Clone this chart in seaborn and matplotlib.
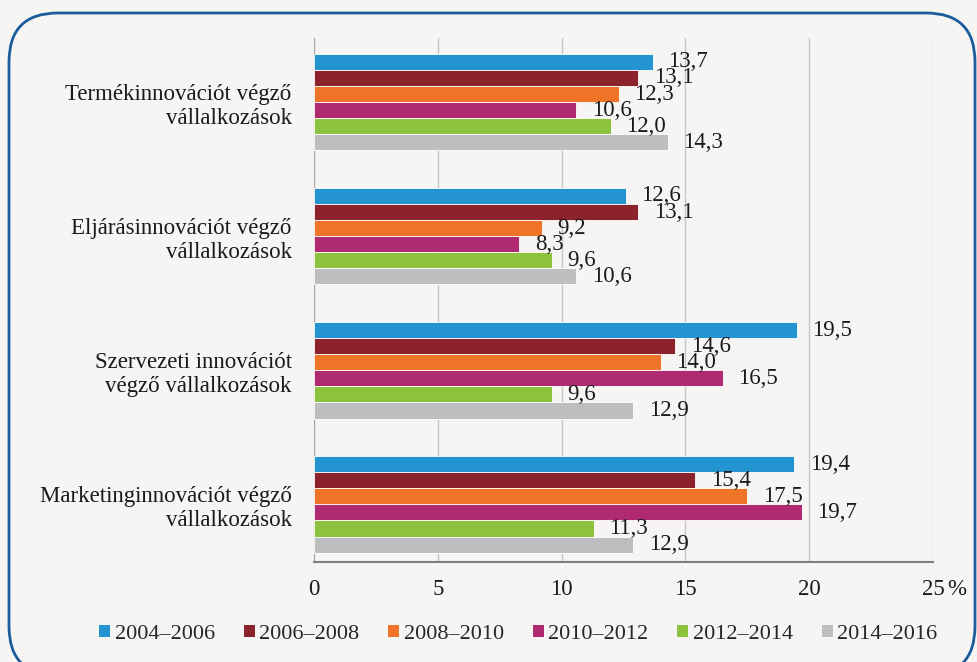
import numpy as np
import pandas as pd
import matplotlib.pyplot as plt
from matplotlib.patches import FancyBboxPatch, Patch
import seaborn as sns

# data
categories = ['Termékinnovációt végző\nvállalkozások',
              'Eljárásinnovációt végző\nvállalkozások',
              'Szervezeti innovációt\nvégző vállalkozások',
              'Marketinginnovációt végző\nvállalkozások']
periods = ['2004–2006', '2006–2008', '2008–2010', '2010–2012', '2012–2014', '2014–2016']
v_2004 = [13.7, 12.6, 19.5, 19.4]
v_2006 = [13.1, 13.1, 14.6, 15.4]
v_2008 = [12.3, 9.2, 14.0, 17.5]
v_2010 = [10.6, 8.3, 16.5, 19.7]
v_2012 = [12.0, 9.6, 9.6, 11.3]
v_2014 = [14.3, 10.6, 12.9, 12.9]
colors = ['#2394cf', '#8b222c', '#f07428', '#b02a72', '#8dc23f', '#bcbec0']

series = [v_2004, v_2006, v_2008, v_2010, v_2012, v_2014]
rows = []
for p, vals in zip(periods, series):
    for c, v in zip(categories, vals):
        rows.append({'cat': c, 'period': p, 'value': v})
df = pd.DataFrame(rows)

sns.set_style('white')
plt.rcParams['font.family'] = ['Liberation Serif', 'DejaVu Serif']
bg = '#f6f5f3'
fs = 16.5

fig = plt.figure(figsize=(9.78, 6.62), dpi=100, facecolor=bg)
ax = fig.add_axes([0.321, 0.151, 0.633, 0.792])
ax.set_facecolor(bg)

# rounded frame around the chart
frame = FancyBboxPatch((9 / 978, -0.02), 966 / 978, 1 - 13 / 662 + 0.02,
                       boxstyle='round,pad=0,rounding_size=0.05',
                       transform=fig.transFigure, facecolor='none',
                       edgecolor='#1d5c9c', linewidth=2, zorder=0,
                       mutation_aspect=978 / 662)
fig.patches.append(frame)

sns.barplot(data=df, y='cat', x='value', hue='period', hue_order=periods,
            palette=colors, orient='h', width=0.72, ax=ax, legend=False,
            edgecolor='white', linewidth=0.6, saturation=1, zorder=3)

for cont, vals in zip(ax.containers, series):
    ax.bar_label(cont, labels=[f'{v:.1f}'.replace('.', ',') for v in vals],
                 padding=11, fontsize=fs, color='#1a1a1a')

ax.set_xlim(0, 25)
ax.set_ylim(3.43, -0.48)
ax.set_xticks([0, 5, 10, 15, 20, 25])
ax.set_xticklabels(['0', '5', '10', '15', '20', '25'])
ax.annotate('%', xy=(25, 0), xycoords=('data', 'axes fraction'),
            xytext=(10, -20), textcoords='offset points',
            fontsize=fs, va='center', ha='left', color='#1a1a1a')
ax.set_xlabel('')
ax.set_ylabel('')
ax.grid(axis='x', color='#c6c6c6', linewidth=1, zorder=0)
ax.set_axisbelow(True)
for s in ['top', 'right']:
    ax.spines[s].set_visible(False)
ax.spines['left'].set_color('#a8a8a8')
ax.spines['bottom'].set_color('#808080')
ax.spines['bottom'].set_linewidth(1.5)
ax.tick_params(axis='x', direction='out', length=6, width=1.2, color='#808080',
               pad=6, labelsize=fs, labelcolor='#1a1a1a')
ax.tick_params(axis='y', length=0, pad=16, labelsize=fs, labelcolor='#1a1a1a')

handles = [Patch(facecolor=c, edgecolor='none') for c in colors]
fig.legend(handles, periods, loc='center', bbox_to_anchor=(0.53, 0.042), ncol=6,
           frameon=False, fontsize=16, handlelength=0.5, handleheight=0.5,
           handletextpad=0.2, columnspacing=1.3)

fig.savefig('out.png', dpi=100, facecolor=bg)
